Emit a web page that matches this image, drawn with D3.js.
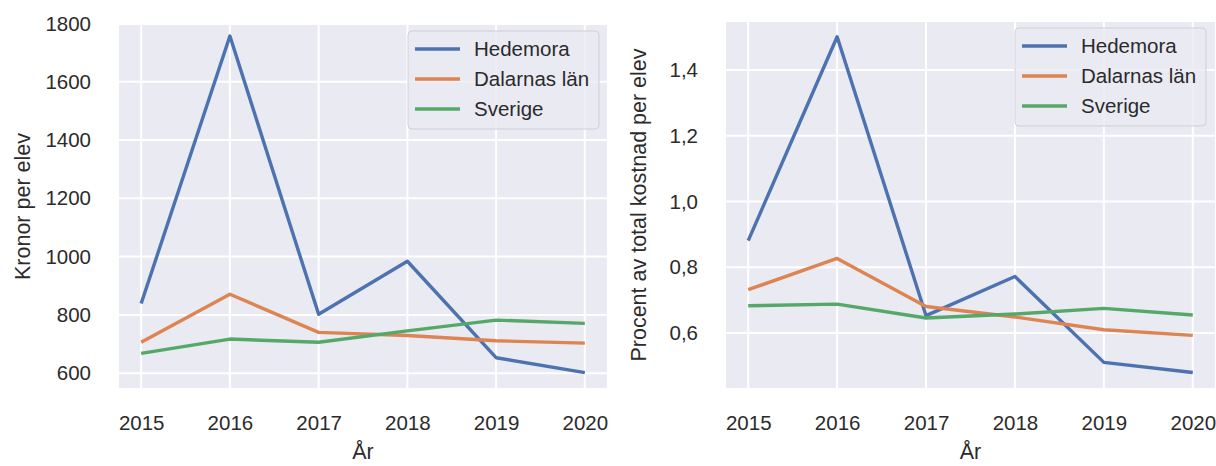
<!DOCTYPE html>
<html>
<head>
<meta charset="utf-8">
<script src="https://cdn.jsdelivr.net/npm/d3@7"></script>
<style>
  body { margin: 0; background: #fff; }
  text { font-family: "Liberation Sans", Arial, sans-serif; fill: #2b2b2b; }
</style>
</head>
<body>
<svg id="chart" width="1216" height="466"></svg>
<script>
// data
const years = [2015, 2016, 2017, 2018, 2019, 2020];
const series = ["Hedemora", "Dalarnas län", "Sverige"];
const colors = ["#4c72b0", "#dd8452", "#55a868"];

const kronorHedemora = [839, 1757, 802, 984, 653, 602];
const kronorDalarna = [706, 871, 740, 729, 711, 703];
const kronorSverige = [668, 717, 706, 745, 782, 771];

const procentHedemora = [0.881, 1.501, 0.653, 0.772, 0.511, 0.480];
const procentDalarna = [0.732, 0.827, 0.681, 0.649, 0.610, 0.593];
const procentSverige = [0.683, 0.688, 0.646, 0.658, 0.675, 0.655];

const kronorTicks = [600, 800, 1000, 1200, 1400, 1600, 1800];
const procentTicks = [0.6, 0.8, 1.0, 1.2, 1.4];

const sv = d3.formatLocale({ decimal: ",", thousands: " ", grouping: [3], currency: ["", " kr"] });

var svg = d3.select("#chart");

function drawPanel(opts) {
    var g = svg.append("g");
    var x = d3.scaleLinear().domain([2014.75, 2020.25]).range([opts.left, opts.right]);
    var y = d3.scaleLinear().domain(opts.yDomain).range([opts.bottom, opts.top]);

    // bakgrund
    g.append("rect")
        .attr("x", opts.left).attr("y", opts.top)
        .attr("width", opts.right - opts.left).attr("height", opts.bottom - opts.top)
        .attr("fill", "#eaeaf2");

    // rutnät
    g.selectAll(".vgrid").data(years).enter().append("line")
        .attr("x1", d => x(d)).attr("x2", d => x(d))
        .attr("y1", opts.top).attr("y2", opts.bottom)
        .attr("stroke", "#fff").attr("stroke-width", 2);
    g.selectAll(".hgrid").data(opts.ticks.filter(t => y(t) >= opts.top - 0.5)).enter().append("line")
        .attr("x1", opts.left).attr("x2", opts.right)
        .attr("y1", d => y(d)).attr("y2", d => y(d))
        .attr("stroke", "#fff").attr("stroke-width", 2);

    // axlar utan linje och tickmarkeringar
    var xAxis = d3.axisBottom(x).tickValues(years).tickFormat(d3.format("d")).tickSize(0).tickPadding(27);
    var yAxis = d3.axisLeft(y).tickValues(opts.ticks).tickFormat(opts.fmt).tickSize(0).tickPadding(28);

    var gx = g.append("g").attr("transform", "translate(0," + opts.bottom + ")").call(xAxis);
    var gy = g.append("g").attr("transform", "translate(" + opts.left + ",0)").call(yAxis);
    [gx, gy].forEach(a => {
        a.select(".domain").remove();
        a.selectAll("text").attr("font-size", "20.5px").attr("fill", "#2b2b2b")
            .attr("font-family", "Liberation Sans, Arial, sans-serif");
    });

    // linjer
    var line = d3.line().x((d, i) => x(years[i])).y(d => y(d));
    opts.data.forEach((vals, i) => {
        g.append("path")
            .attr("d", line(vals))
            .attr("fill", "none")
            .attr("stroke", colors[i])
            .attr("stroke-width", 3.4)
            .attr("stroke-linejoin", "round")
            .attr("stroke-linecap", "butt");
    });

    // axeltitlar
    g.append("text")
        .attr("transform", "translate(" + opts.ylabelX + "," + ((opts.top + opts.bottom) / 2) + ") rotate(-90)")
        .attr("text-anchor", "middle")
        .attr("font-size", "21.5px")
        .text(opts.ylabel);
    g.append("text")
        .attr("x", (opts.left + opts.right) / 2)
        .attr("y", 459)
        .attr("text-anchor", "middle")
        .attr("font-size", "21.5px")
        .text("År");

    // legend
    var lg = g.append("g").attr("transform", "translate(" + opts.legendX + "," + (opts.top + 6) + ")");
    lg.append("rect")
        .attr("width", 191).attr("height", 98).attr("rx", 4)
        .attr("fill", "#eaeaf2").attr("fill-opacity", 0.8)
        .attr("stroke", "#cfcfd6").attr("stroke-width", 1);
    series.forEach((s, i) => {
        var row = lg.append("g").attr("transform", "translate(0," + (18 + i * 30) + ")");
        row.append("line")
            .attr("x1", 7).attr("x2", 52)
            .attr("stroke", colors[i]).attr("stroke-width", 3.4);
        row.append("text")
            .attr("x", 66).attr("dy", "0.36em")
            .attr("font-size", "20.5px")
            .text(s);
    });
}

drawPanel({
    left: 119, right: 607, top: 25, bottom: 388,
    yDomain: [549, 1795],
    ticks: kronorTicks,
    fmt: d3.format("d"),
    data: [kronorHedemora, kronorDalarna, kronorSverige],
    ylabel: "Kronor per elev",
    ylabelX: 30,
    legendX: 408
});

drawPanel({
    left: 726, right: 1215, top: 22, bottom: 388,
    yDomain: [0.433, 1.546],
    ticks: procentTicks,
    fmt: sv.format(".1f"),
    data: [procentHedemora, procentDalarna, procentSverige],
    ylabel: "Procent av total kostnad per elev",
    ylabelX: 646,
    legendX: 1015
});
</script>
</body>
</html>
